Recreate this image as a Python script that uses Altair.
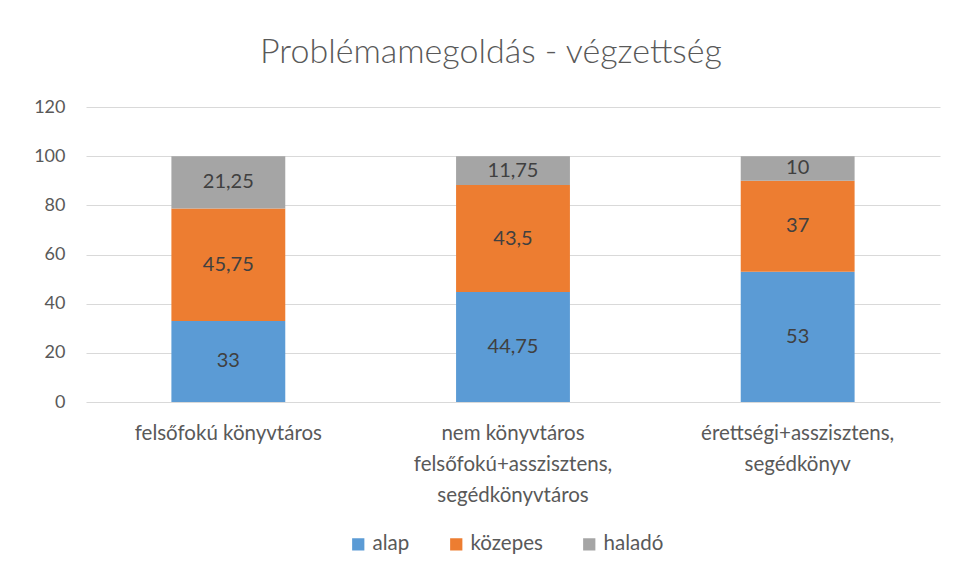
import altair as alt
import pandas as pd

categories = ["felsőfokú könyvtáros",
              "nem könyvtáros|felsőfokú+asszisztens,|segédkönyvtáros",
              "érettségi+asszisztens,|segédkönyv"]
series = ["alap", "közepes", "haladó"]
alap = [33, 44.75, 53]
kozepes = [45.75, 43.5, 37]
halado = [21.25, 11.75, 10]
colors = ["#5B9BD5", "#ED7D31", "#A5A5A5"]

rows = []
for i, c in enumerate(categories):
    for j, (s, vals) in enumerate(zip(series, [alap, kozepes, halado])):
        v = vals[i]
        rows.append({"cat": c, "series": s, "order": j, "value": v,
                     "label": f"{v:g}".replace(".", ",")})
df = pd.DataFrame(rows)

FONT = "Lato"

x = alt.X("cat:N", sort=categories, title=None,
          scale=alt.Scale(paddingInner=0.6, paddingOuter=0.3),
          axis=alt.Axis(labelAngle=0, labelExpr="split(datum.label, '|')",
                        labelFontSize=20.5, labelColor="#595959", labelFont=FONT,
                        labelPadding=21, labelLineHeight=31, ticks=False, domain=False,
                        labelBaseline="top", labelLimit=400))

bars = alt.Chart(df).mark_bar().encode(
    x=x,
    y=alt.Y("value:Q", stack="zero", title=None,
            scale=alt.Scale(domain=[0, 120]),
            axis=alt.Axis(values=[0, 20, 40, 60, 80, 100, 120], grid=True,
                          gridColor="#D9D9D9", gridWidth=1, domain=False, ticks=False,
                          labelFontSize=18, labelColor="#595959", labelFont=FONT,
                          labelPadding=21)),
    color=alt.Color("series:N", sort=series,
                    scale=alt.Scale(domain=series, range=colors),
                    legend=alt.Legend(title=None, orient="none", direction="horizontal",
                                      legendX=262, legendY=427,
                                      symbolType="square", symbolSize=150,
                                      symbolStrokeWidth=0,
                                      labelFontSize=20.5, labelColor="#595959",
                                      labelFont=FONT, columnPadding=36,
                                      labelOffset=4)),
    order=alt.Order("order:Q"),
)

text = alt.Chart(df).transform_stack(
    stack="value", groupby=["cat"], as_=["y0", "y1"],
    sort=[alt.SortField("order", order="ascending")]
).transform_calculate(
    mid="(datum.y0 + datum.y1) / 2"
).mark_text(fontSize=20, color="#404040", font=FONT).encode(
    x=alt.X("cat:N", sort=categories),
    y=alt.Y("mid:Q"),
    text="label:N",
)

chart = alt.layer(bars, text).properties(
    width=854, height=295,
    autosize=alt.AutoSizeParams(type="none"),
    padding={"left": 78, "top": 99, "right": 10, "bottom": 160},
    title=alt.TitleParams("Problémamegoldás - végzettség", fontSize=34,
                          font=FONT, fontWeight=300, color="#595959",
                          anchor="middle", offset=28, dx=-22),
).configure_view(stroke=None)

chart.save("out.html", embed_options={"renderer": "svg", "actions": False})
